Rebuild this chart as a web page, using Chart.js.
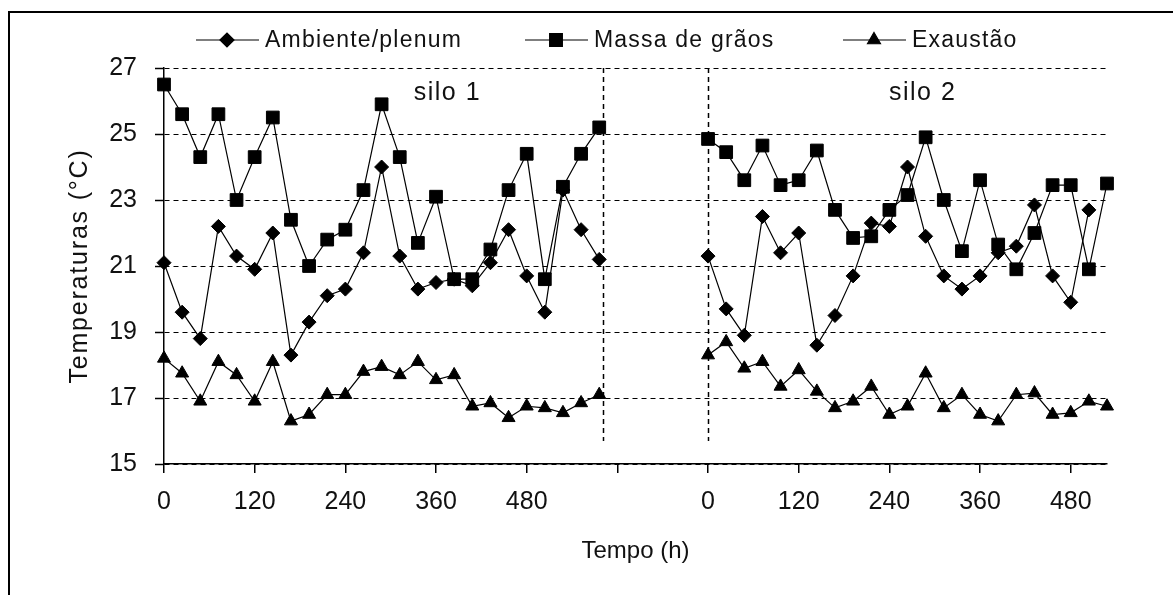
<!DOCTYPE html>
<html>
<head>
<meta charset="utf-8">
<script src="https://cdn.jsdelivr.net/npm/chart.js@4.4.0/dist/chart.umd.min.js"></script>
<style>
  html, body { margin: 0; padding: 0; background: #fff; }
</style>
</head>
<body>
<canvas id="grafico" width="1173" height="595"></canvas>
<script>
// horas de cada leitura
const horasSilo1 = [0, 24, 48, 72, 96, 120, 144, 168, 192, 216, 240, 264, 288, 312, 336, 360, 384, 408, 432, 456, 480, 504, 528, 552, 576];
const horasSilo2 = [0, 24, 48, 72, 96, 120, 144, 168, 192, 216, 240, 264, 288, 312, 336, 360, 384, 408, 432, 456, 480, 504, 528];
const inicioSilo2 = 720; // onde o 0 do silo 2 cai no eixo

const ambienteSilo1 = [21.1, 19.6, 18.8, 22.2, 21.3, 20.9, 22.0, 18.3, 19.3, 20.1, 20.3, 21.4, 24.0, 21.3, 20.3, 20.5, 20.6, 20.4, 21.1, 22.1, 20.7, 19.6, 23.3, 22.1, 21.2];
const massaSilo1 = [26.5, 25.6, 24.3, 25.6, 23.0, 24.3, 25.5, 22.4, 21.0, 21.8, 22.1, 23.3, 25.9, 24.3, 21.7, 23.1, 20.6, 20.6, 21.5, 23.3, 24.4, 20.6, 23.4, 24.4, 25.2];
const exaustaoSilo1 = [18.2, 17.75, 16.9, 18.1, 17.7, 16.9, 18.1, 16.3, 16.5, 17.1, 17.1, 17.8, 17.95, 17.7, 18.1, 17.55, 17.7, 16.75, 16.85, 16.4, 16.75, 16.7, 16.55, 16.85, 17.1];

const ambienteSilo2 = [21.3, 19.7, 18.9, 22.5, 21.4, 22.0, 18.6, 19.5, 20.7, 22.3, 22.2, 24.0, 21.9, 20.7, 20.3, 20.7, 21.4, 21.6, 22.85, 20.7, 19.9, 22.7];
const massaSilo2 = [24.85, 24.45, 23.6, 24.65, 23.45, 23.6, 24.5, 22.7, 21.85, 21.9, 22.7, 23.15, 24.9, 23.0, 21.45, 23.6, 21.65, 20.9, 22.0, 23.45, 23.45, 20.9, 23.5];
const exaustaoSilo2 = [18.3, 18.7, 17.9, 18.1, 17.35, 17.85, 17.2, 16.7, 16.9, 17.35, 16.5, 16.75, 17.75, 16.7, 17.1, 16.5, 16.3, 17.1, 17.15, 16.5, 16.55, 16.9, 16.75];

const ticksX = [0, 120, 240, 360, 480, 600, 720, 840, 960, 1080, 1200];
const rotulosX = ['0', '120', '240', '360', '480', '', '0', '120', '240', '360', '480'];
const ticksY = [15, 17, 19, 21, 23, 25, 27];
const nomesSilos = ['silo 1', 'silo 2'];
const tituloY = 'Temperaturas (°C)';

const fonte = '"Liberation Sans", Arial, sans-serif';
const corTexto = '#111';
const fimSilo1 = horasSilo1[horasSilo1.length - 1];
const fimEixo = inicioSilo2 + horasSilo2[horasSilo2.length - 1];

// junta os dois silos numa serie só, com um null no meio pra cortar a linha
function juntarSilos(v1, v2) {
    const pts = [];
    v1.forEach((v, i) => pts.push({ x: horasSilo1[i], y: v }));
    pts.push({ x: (fimSilo1 + inicioSilo2) / 2, y: null });
    v2.forEach((v, i) => pts.push({ x: inicioSilo2 + horasSilo2[i], y: v }));
    return pts;
}

function serie(label, data, estilo, raio) {
    return {
        label: label,
        data: data,
        borderColor: '#000',
        backgroundColor: '#000',
        borderWidth: 1.2,
        pointStyle: estilo,
        pointRadius: raio,
        pointBackgroundColor: '#000',
        pointBorderColor: '#000',
        pointBorderWidth: 1,
        tension: 0,
        spanGaps: false,
        clip: false
    };
}

const extras = {
    id: 'extras',
    beforeDraw(chart) {
        const c = chart.ctx;
        c.save();
        c.fillStyle = '#fff';
        c.fillRect(0, 0, chart.width, chart.height);
        c.restore();
    },
    beforeDatasetsDraw(chart) {
        // linhas tracejadas separando os silos
        const c = chart.ctx;
        const sx = chart.scales.x, sy = chart.scales.y;
        c.save();
        c.strokeStyle = '#000';
        c.lineWidth = 1.5;
        c.setLineDash([5, 4]);
        [fimSilo1 + 5, inicioSilo2].forEach(h => {
            const px = Math.round(sx.getPixelForValue(h)) + 0.5;
            c.beginPath();
            c.moveTo(px, chart.chartArea.top);
            c.lineTo(px, sy.getPixelForValue(15.7));
            c.stroke();
        });
        c.restore();
    },
    afterDraw(chart) {
        const c = chart.ctx;
        const sx = chart.scales.x, sy = chart.scales.y;
        const area = chart.chartArea;
        c.save();

        // moldura
        c.strokeStyle = '#000';
        c.lineWidth = 2;
        c.beginPath();
        c.moveTo(9, 600);
        c.lineTo(9, 12);
        c.lineTo(1180, 12);
        c.stroke();

        // titulo do eixo y (com espaçamento entre letras)
        c.save();
        c.translate(80, (area.top + area.bottom) / 2);
        c.rotate(-Math.PI / 2);
        c.fillStyle = corTexto;
        c.font = '25px ' + fonte;
        c.letterSpacing = '1.8px';
        c.textAlign = 'center';
        c.textBaseline = 'middle';
        c.fillText(tituloY, 0, 0);
        c.restore();

        // nomes dos silos
        c.fillStyle = corTexto;
        c.font = '25px ' + fonte;
        c.letterSpacing = '1.5px';
        c.textAlign = 'center';
        c.textBaseline = 'middle';
        c.fillText(nomesSilos[0], sx.getPixelForValue(375), sy.getPixelForValue(26.25));
        c.fillText(nomesSilos[1], sx.getPixelForValue(inicioSilo2 + 284), sy.getPixelForValue(26.25));

        // legenda: linha + marcador + texto
        const posLegenda = [196, 525, 843];
        const yLeg = 40;
        chart.data.datasets.forEach((ds, i) => {
            const x0 = posLegenda[i];
            c.strokeStyle = '#000';
            c.fillStyle = '#000';
            c.lineWidth = 1.2;
            c.beginPath();
            c.moveTo(x0, yLeg);
            c.lineTo(x0 + 63, yLeg);
            c.stroke();
            Chart.helpers.drawPoint(c, { pointStyle: ds.pointStyle, radius: ds.pointRadius, rotation: 0, borderWidth: 1 }, x0 + 31, yLeg);
            c.fillStyle = corTexto;
            c.textAlign = 'left';
            c.textBaseline = 'middle';
            c.font = '23px ' + fonte;
            c.letterSpacing = '1.2px';
            c.fillText(ds.label, x0 + 69, yLeg + 1);
        });
        c.restore();
    }
};

const ctx = document.getElementById('grafico').getContext('2d');

new Chart(ctx, {
    type: 'line',
    data: {
        datasets: [
            serie('Ambiente/plenum', juntarSilos(ambienteSilo1, ambienteSilo2), 'rectRot', 7),
            serie('Massa de grãos', juntarSilos(massaSilo1, massaSilo2), 'rect', 9),
            serie('Exaustão', juntarSilos(exaustaoSilo1, exaustaoSilo2), 'triangle', 7.5)
        ]
    },
    options: {
        responsive: false,
        animation: false,
        devicePixelRatio: 1,
        layout: { padding: { left: 10, top: 68, right: 66, bottom: 0 } },
        plugins: {
            legend: { display: false },
            tooltip: { enabled: false }
        },
        scales: {
            x: {
                type: 'linear',
                min: 0,
                max: fimEixo,
                afterBuildTicks: s => { s.ticks = ticksX.map(v => ({ value: v })); },
                afterFit: s => { s.height = 131; },
                ticks: {
                    autoSkip: false,
                    maxRotation: 0,
                    padding: 14,
                    color: corTexto,
                    font: { family: fonte, size: 25 },
                    callback: v => rotulosX[ticksX.indexOf(v)]
                },
                grid: { drawOnChartArea: false, drawTicks: true, tickLength: 9, color: '#000', lineWidth: 1.5 },
                border: { color: '#000', width: 1.5 },
                title: {
                    display: true,
                    text: 'Tempo (h)',
                    color: corTexto,
                    font: { family: fonte, size: 24 },
                    padding: { top: 0, bottom: 29 }
                }
            },
            y: {
                min: 15,
                max: 27,
                afterBuildTicks: s => { s.ticks = ticksY.map(v => ({ value: v })); },
                afterFit: s => { s.width = 154; },
                ticks: {
                    padding: 18,
                    color: corTexto,
                    font: { family: fonte, size: 25 }
                },
                grid: { color: '#000', lineWidth: 1, drawTicks: true, tickLength: 9, tickBorderDash: [], tickWidth: 1.5 },
                border: { color: '#000', width: 1.5, dash: [5, 4] }
            }
        }
    },
    plugins: [extras]
});
</script>
</body>
</html>
